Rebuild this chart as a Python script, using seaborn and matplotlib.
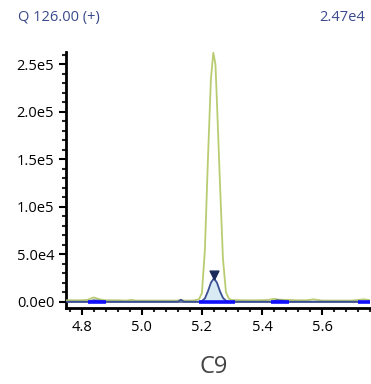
import numpy as np
import matplotlib
matplotlib.use("Agg")
import matplotlib.pyplot as plt
import seaborn as sns
from matplotlib.ticker import MultipleLocator, FuncFormatter

# qualifier trace (green) - retention time (min) vs intensity
green_t = [4.75, 4.80, 4.82, 4.84, 4.86, 4.88, 4.92, 4.95, 4.965, 4.98, 5.03, 5.10,
           5.12, 5.13, 5.14, 5.17, 5.19, 5.20, 5.21, 5.22, 5.23, 5.238, 5.245, 5.25,
           5.26, 5.27, 5.28, 5.29, 5.30, 5.34, 5.38, 5.42, 5.44, 5.46, 5.48, 5.52,
           5.55, 5.57, 5.60, 5.70, 5.72, 5.74, 5.76]
green_y = [1500, 1500, 2000, 4500, 2500, 1500, 1500, 1200, 2000, 1200, 1200, 1200,
           1200, 2000, 1200, 1200, 2500, 9000, 55000, 150000, 235000, 262000, 250000, 210000,
           125000, 45000, 10000, 3000, 1800, 1500, 1500, 1800, 3000, 2000, 2000, 1500,
           1500, 2500, 1200, 1200, 2000, 2500, 1500]

# quantifier trace (blue)
blue_t = [4.75, 4.82, 4.84, 4.86, 4.88, 5.12, 5.13, 5.14, 5.19, 5.20, 5.21, 5.22,
          5.23, 5.24, 5.25, 5.26, 5.27, 5.28, 5.29, 5.43, 5.45, 5.47, 5.49, 5.76]
blue_y = [0, 0, 1500, 1000, 0, 0, 2000, 0, 0, 600, 3500, 11000,
          20000, 24700, 20000, 11000, 4000, 1000, 0, 0, 1500, 1000, 0, 0]

# integrated peak and detected baseline segments
peak_start, peak_end = 5.19, 5.31
peak_rt, peak_height = 5.24, 24700
segments = [(4.82, 4.88), (5.19, 5.31), (5.43, 5.49), (5.72, 5.76)]

title_left = "Q 126.00 (+)"
title_right = "2.47e4"
sample = "C9"

sns.set_theme(style="white")
plt.rcParams["font.family"] = ["Open Sans", "DejaVu Sans"]

fig = plt.figure(figsize=(3.71, 3.84), dpi=100)
ax = fig.add_axes([0.178, 0.198, 0.82, 0.667])

bt = np.array(blue_t)
by = np.array(blue_y)
mask = (bt >= peak_start) & (bt <= peak_end)
ax.fill_between(bt[mask], 0, by[mask], color="#d8ebf4", zorder=1)

ax.axhline(0, color="#5a6890", lw=1.2, zorder=2)
sns.lineplot(x=green_t, y=green_y, ax=ax, color="#b9cc72", lw=1.3, zorder=3)
sns.lineplot(x=blue_t, y=blue_y, ax=ax, color="#3d4f95", lw=1.3, zorder=4)
for s, e in segments:
    ax.plot([s, e], [0, 0], color="#1010ff", lw=2.6, solid_capstyle="butt", zorder=5)
ax.scatter([peak_rt], [peak_height + 3500], marker="v", s=40, color="#1a2a5a", zorder=6)

ax.set_xlim(4.748, 5.76)
ax.set_ylim(-6600, 263000)
ax.xaxis.set_major_locator(MultipleLocator(0.2))
ax.xaxis.set_minor_locator(MultipleLocator(0.04))
ax.yaxis.set_major_locator(MultipleLocator(50000))
ax.yaxis.set_minor_locator(MultipleLocator(10000))
ax.xaxis.set_major_formatter(FuncFormatter(lambda v, p: f"{v:.1f}"))

def sci(v, p):
    if v == 0:
        return "0.0e0"
    e = int(np.floor(np.log10(abs(v))))
    return f"{v / 10**e:.1f}e{e}"
ax.yaxis.set_major_formatter(FuncFormatter(sci))

for side in ["top", "right"]:
    ax.spines[side].set_visible(False)
for side in ["left", "bottom"]:
    ax.spines[side].set_color("black")
    ax.spines[side].set_linewidth(2)
ax.tick_params(which="major", direction="out", length=5, width=1.5, labelsize=10.5,
               colors="black", left=True, bottom=True)
ax.tick_params(which="minor", direction="out", length=3, width=1.5, left=True, bottom=True)
ax.set_xlabel("")
ax.set_ylabel("")

fig.text(0.048, 0.955, title_left, color="#3a4a8c", fontsize=10.5, va="center")
fig.text(0.985, 0.955, title_right, color="#3a4a8c", fontsize=10.5, va="center", ha="right")
fig.text(0.577, 0.045, sample, color="#444444", fontsize=17, ha="center", va="center")

fig.savefig("out.png", dpi=100)
